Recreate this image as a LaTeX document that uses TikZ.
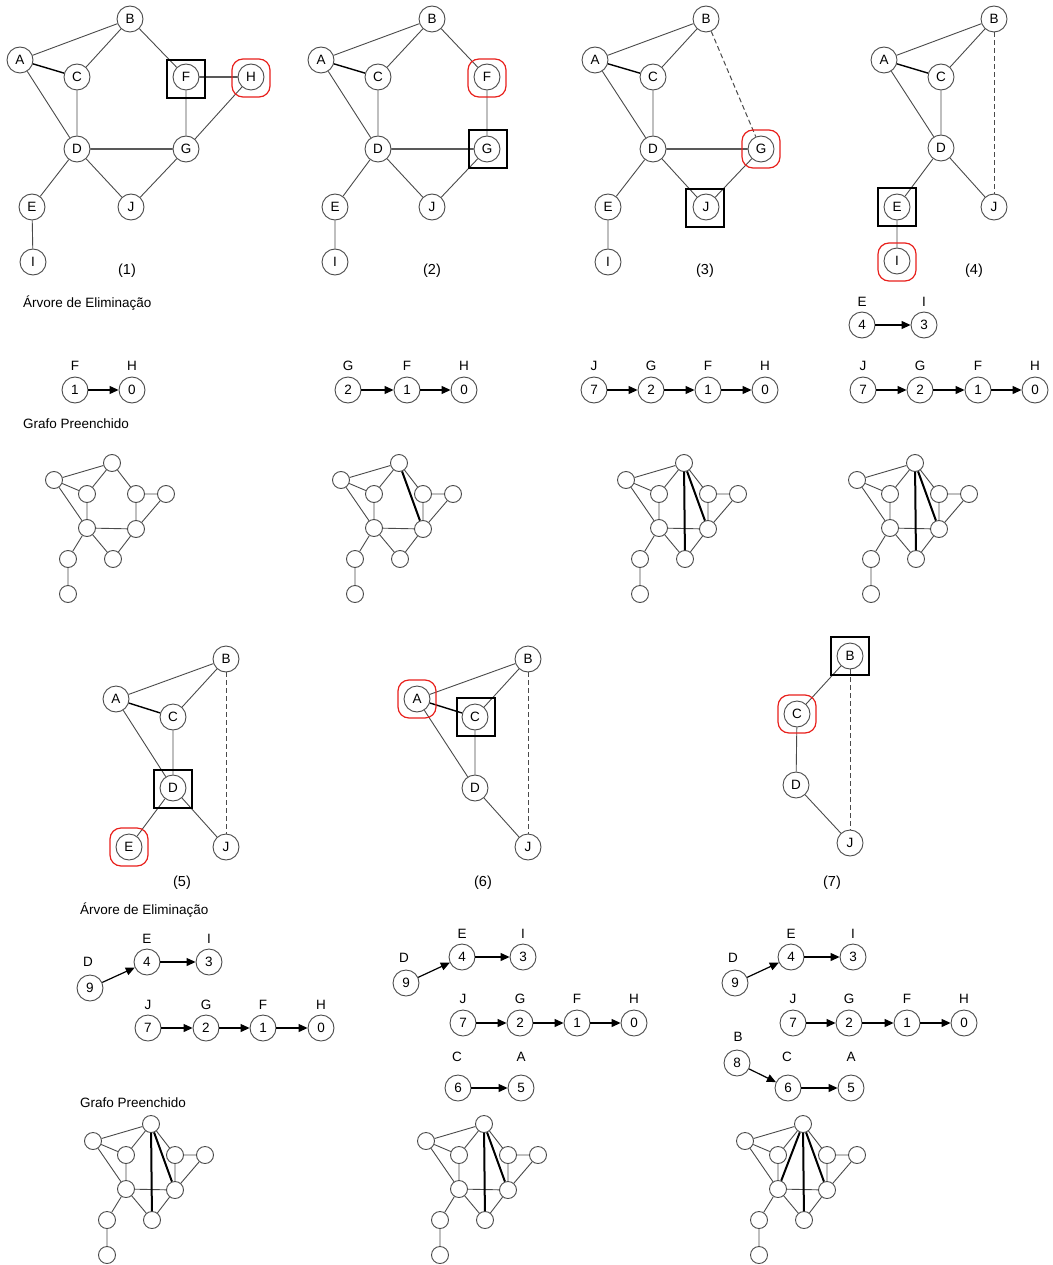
\documentclass[tikz,border=0pt]{standalone}
\usepackage{fontspec}
\setmainfont{Liberation Sans}
\usetikzlibrary{arrows.meta}
\definecolor{edgegray}{HTML}{4A4A4A}
\definecolor{elimred}{HTML}{E8201C}
\newcommand\fgraph[3]{%
\begin{scope}[shift={(#2,#3)}]
\node[sv] (#1B) at (0,0) {};
\node[sv] (#1A) at (-58,17) {};
\node[sv] (#1C) at (-25,31) {};
\node[sv] (#1F) at (24,31) {};
\node[sv] (#1H) at (54,31) {};
\node[sv] (#1D) at (-25,65) {};
\node[sv] (#1G) at (24,66) {};
\node[sv] (#1E) at (-44,96) {};
\node[sv] (#1J) at (1,96) {};
\node[sv] (#1I) at (-44,131) {};
\draw[ed] (#1A)--(#1B) (#1A)--(#1C) (#1B)--(#1C) (#1B)--(#1F) (#1A)--(#1D) (#1C)--(#1D) (#1F)--(#1H) (#1F)--(#1G) (#1H)--(#1G) (#1D)--(#1G) (#1D)--(#1E) (#1D)--(#1J) (#1G)--(#1J) (#1E)--(#1I);
\end{scope}}
\begin{document}
\begin{tikzpicture}[x=1pt,y=-1pt,
 vtx/.style={circle,draw=edgegray,line width=0.9pt,fill=white,minimum size=26pt,inner sep=0pt,font=\fontsize{13.5}{15}\selectfont},
 sv/.style={circle,draw=edgegray,line width=0.9pt,fill=white,minimum size=17pt,inner sep=0pt},
 ed/.style={draw=edgegray,line width=0.9pt},
 hv/.style={draw=black,line width=1.4pt},
 dsh/.style={draw=edgegray,line width=1pt,dash pattern=on 5pt off 3pt},
 fe/.style={draw=black,line width=2pt},
 selbox/.style={draw=black,line width=1.5pt,minimum size=38pt,inner sep=0pt},
 elim/.style={draw=elimred,line width=1.2pt,rounded corners=11pt,minimum size=38pt,inner sep=0pt},
 lbl/.style={font=\fontsize{13.5}{15}\selectfont,inner sep=0pt},
 num/.style={font=\fontsize{14.5}{16}\selectfont,inner sep=0pt},
 ttl/.style={font=\fontsize{13.5}{16}\selectfont,anchor=west,inner sep=0pt},
 arr/.style={draw=black,line width=1.2pt,-{Triangle[length=9pt,width=8pt]}},
]
\useasboundingbox[fill=white] (0,0) rectangle (1052,1265);

% ---------- Panel 1 ----------
\node[vtx] (aA) at (20,60) {A};
\node[vtx] (aB) at (130,19) {B};
\node[vtx] (aC) at (77,77) {C};
\node[vtx] (aF) at (186,77) {F};
\node[vtx] (aH) at (251,77) {H};
\node[vtx] (aD) at (77,149) {D};
\node[vtx] (aG) at (186,149) {G};
\node[vtx] (aE) at (32,207) {E};
\node[vtx] (aJ) at (131,207) {J};
\node[vtx] (aI) at (33,262) {I};
\draw[ed] (aA)--(aB) (aB)--(aC) (aB)--(aF) (aA)--(aD) (aC)--(aD) (aF)--(aG) (aH)--(aG) (aD)--(aE) (aD)--(aJ) (aG)--(aJ) (aE)--(aI);
\draw[hv] (aA)--(aC) (aD)--(aG) (aF)--(aH);
\node[selbox] (aSq) at (186,79) {};
\node[elim] (aRd) at (251,78) {};
\node[num] (aN) at (127,271) {(1)};

% ---------- Panel 2 ----------
\node[vtx] (bA) at (321,60) {A};
\node[vtx] (bB) at (432,19) {B};
\node[vtx] (bC) at (378,77) {C};
\node[vtx] (bF) at (487,77) {F};
\node[vtx] (bD) at (378,149) {D};
\node[vtx] (bG) at (487,149) {G};
\node[vtx] (bE) at (335,207) {E};
\node[vtx] (bJ) at (432,207) {J};
\node[vtx] (bI) at (335,262) {I};
\draw[ed] (bA)--(bB) (bB)--(bC) (bB)--(bF) (bA)--(bD) (bC)--(bD) (bF)--(bG) (bD)--(bE) (bD)--(bJ) (bG)--(bJ) (bE)--(bI);
\draw[hv] (bA)--(bC) (bD)--(bG);
\node[elim] (bRd) at (487,78) {};
\node[selbox] (bSq) at (488,149) {};
\node[num] (bN) at (432,271) {(2)};

% ---------- Panel 3 ----------
\node[vtx] (cA) at (595,60) {A};
\node[vtx] (cB) at (706,19) {B};
\node[vtx] (cC) at (653,77) {C};
\node[vtx] (cD) at (653,149) {D};
\node[vtx] (cG) at (761,149) {G};
\node[vtx] (cE) at (608,207) {E};
\node[vtx] (cJ) at (706,207) {J};
\node[vtx] (cI) at (608,262) {I};
\draw[ed] (cA)--(cB) (cB)--(cC) (cA)--(cD) (cC)--(cD) (cD)--(cE) (cD)--(cJ) (cG)--(cJ) (cE)--(cI);
\draw[hv] (cA)--(cC) (cD)--(cG);
\draw[dsh] (cB)--(cG);
\node[elim] (cRd) at (761,149) {};
\node[selbox] (cSq) at (705,208) {};
\node[num] (cN) at (705,271) {(3)};

% ---------- Panel 4 ----------
\node[vtx] (dA) at (884,60) {A};
\node[vtx] (dB) at (994,19) {B};
\node[vtx] (dC) at (941,77) {C};
\node[vtx] (dD) at (941,148) {D};
\node[vtx] (dE) at (897,207) {E};
\node[vtx] (dJ) at (994,207) {J};
\node[vtx] (dI) at (897,261) {I};
\draw[ed] (dA)--(dB) (dB)--(dC) (dA)--(dD) (dC)--(dD) (dD)--(dE) (dD)--(dJ) (dE)--(dI);
\draw[hv] (dA)--(dC);
\draw[dsh] (dB)--(dJ);
\node[selbox] (dSq) at (897,207) {};
\node[elim] (dRd) at (897,262) {};
\node[num] (dN) at (974,271) {(4)};

% ---------- Titles row 1 ----------
\node[ttl] (t1) at (23,303) {Árvore de Eliminação};
\node[ttl] (t2) at (23,424) {Grafo Preenchido};

% ---------- Trees row 1 ----------
\node[vtx] (ta1) at (75,390) {1};
\node[vtx] (ta0) at (132,390) {0};
\node[lbl] at (75,366) {F};
\node[lbl] at (132,366) {H};
\draw[arr] (ta1)--(ta0);

\node[vtx] (tb2) at (348,390) {2};
\node[vtx] (tb1) at (407,390) {1};
\node[vtx] (tb0) at (464,390) {0};
\node[lbl] at (348,366) {G};
\node[lbl] at (407,366) {F};
\node[lbl] at (464,366) {H};
\draw[arr] (tb2)--(tb1);
\draw[arr] (tb1)--(tb0);

\node[vtx] (tc7) at (594,390) {7};
\node[vtx] (tc2) at (651,390) {2};
\node[vtx] (tc1) at (708,390) {1};
\node[vtx] (tc0) at (765,390) {0};
\node[lbl] at (594,366) {J};
\node[lbl] at (651,366) {G};
\node[lbl] at (708,366) {F};
\node[lbl] at (765,366) {H};
\draw[arr] (tc7)--(tc2);
\draw[arr] (tc2)--(tc1);
\draw[arr] (tc1)--(tc0);

\node[vtx] (td4) at (862,325) {4};
\node[vtx] (td3) at (924,325) {3};
\node[lbl] at (862,302) {E};
\node[lbl] at (924,302) {I};
\draw[arr] (td4)--(td3);
\node[vtx] (td7) at (863,390) {7};
\node[vtx] (td2) at (920,390) {2};
\node[vtx] (td1) at (978,390) {1};
\node[vtx] (td0) at (1035,390) {0};
\node[lbl] at (863,366) {J};
\node[lbl] at (920,366) {G};
\node[lbl] at (978,366) {F};
\node[lbl] at (1035,366) {H};
\draw[arr] (td7)--(td2);
\draw[arr] (td2)--(td1);
\draw[arr] (td1)--(td0);

% ---------- Filled graphs row 1 ----------
\fgraph{fa}{112}{463}
\fgraph{fb}{399}{463}
\draw[fe] (fbB)--(fbG);
\fgraph{fc}{684}{463}
\draw[fe] (fcB)--(fcG) (fcB)--(fcJ);
\fgraph{fd}{915}{463}
\draw[fe] (fdB)--(fdG) (fdB)--(fdJ);

% ---------- Panel 5 ----------
\node[vtx] (eA) at (116,699) {A};
\node[vtx] (eB) at (226,659) {B};
\node[vtx] (eC) at (173,717) {C};
\node[vtx] (eD) at (173,788) {D};
\node[vtx] (eE) at (129,847) {E};
\node[vtx] (eJ) at (226,847) {J};
\draw[ed] (eA)--(eB) (eB)--(eC) (eA)--(eD) (eC)--(eD) (eD)--(eE) (eD)--(eJ);
\draw[hv] (eA)--(eC);
\draw[dsh] (eB)--(eJ);
\node[selbox] (eSq) at (173,789) {};
\node[elim] (eRd) at (129,847) {};
\node[num] (eN) at (182,883) {(5)};

% ---------- Panel 6 ----------
\node[vtx] (gA) at (417,699) {A};
\node[vtx] (gB) at (528,659) {B};
\node[vtx] (gC) at (475,717) {C};
\node[vtx] (gD) at (475,788) {D};
\node[vtx] (gJ) at (528,847) {J};
\draw[ed] (gA)--(gB) (gB)--(gC) (gA)--(gD) (gC)--(gD) (gD)--(gJ);
\draw[hv] (gA)--(gC);
\draw[dsh] (gB)--(gJ);
\node[selbox] (gSq) at (476,717) {};
\node[elim] (gRd) at (417,699) {};
\node[num] (gN) at (483,883) {(6)};

% ---------- Panel 7 ----------
\node[vtx] (hB) at (850,656) {B};
\node[vtx] (hC) at (797,714) {C};
\node[vtx] (hD) at (796,785) {D};
\node[vtx] (hJ) at (850,843) {J};
\draw[ed] (hB)--(hC) (hC)--(hD) (hD)--(hJ);
\draw[dsh] (hB)--(hJ);
\node[selbox] (hSq) at (850,656) {};
\node[elim] (hRd) at (797,714) {};
\node[num] (hN) at (832,883) {(7)};

% ---------- Titles row 2 ----------
\node[ttl] (t3) at (80,910) {Árvore de Eliminação};
\node[ttl] (t4) at (80,1103) {Grafo Preenchido};

% ---------- Trees row 2 ----------
\node[vtx] (te9) at (90,988) {9};
\node[vtx] (te4) at (147,962) {4};
\node[vtx] (te3) at (209,962) {3};
\node[lbl] at (88,962) {D};
\node[lbl] at (147,939) {E};
\node[lbl] at (209,939) {I};
\draw[arr] (te9)--(te4);
\draw[arr] (te4)--(te3);
\node[vtx] (te7) at (148,1028) {7};
\node[vtx] (te2) at (206,1028) {2};
\node[vtx] (te1) at (263,1028) {1};
\node[vtx] (te0) at (321,1028) {0};
\node[lbl] at (148,1005) {J};
\node[lbl] at (206,1005) {G};
\node[lbl] at (263,1005) {F};
\node[lbl] at (321,1005) {H};
\draw[arr] (te7)--(te2);
\draw[arr] (te2)--(te1);
\draw[arr] (te1)--(te0);

\node[vtx] (tg9) at (406,983) {9};
\node[vtx] (tg4) at (462,957) {4};
\node[vtx] (tg3) at (523,957) {3};
\node[lbl] at (404,958) {D};
\node[lbl] at (462,934) {E};
\node[lbl] at (523,934) {I};
\draw[arr] (tg9)--(tg4);
\draw[arr] (tg4)--(tg3);
\node[vtx] (tg7) at (463,1023) {7};
\node[vtx] (tg2) at (520,1023) {2};
\node[vtx] (tg1) at (577,1023) {1};
\node[vtx] (tg0) at (634,1023) {0};
\node[lbl] at (463,999) {J};
\node[lbl] at (520,999) {G};
\node[lbl] at (577,999) {F};
\node[lbl] at (634,999) {H};
\draw[arr] (tg7)--(tg2);
\draw[arr] (tg2)--(tg1);
\draw[arr] (tg1)--(tg0);
\node[vtx] (tg6) at (458,1088) {6};
\node[vtx] (tg5) at (521,1088) {5};
\node[lbl] at (457,1057) {C};
\node[lbl] at (521,1057) {A};
\draw[arr] (tg6)--(tg5);

\node[vtx] (th9) at (735,983) {9};
\node[vtx] (th4) at (791,957) {4};
\node[vtx] (th3) at (853,957) {3};
\node[lbl] at (733,958) {D};
\node[lbl] at (791,934) {E};
\node[lbl] at (853,934) {I};
\draw[arr] (th9)--(th4);
\draw[arr] (th4)--(th3);
\node[vtx] (th7) at (793,1023) {7};
\node[vtx] (th2) at (849,1023) {2};
\node[vtx] (th1) at (907,1023) {1};
\node[vtx] (th0) at (964,1023) {0};
\node[lbl] at (793,999) {J};
\node[lbl] at (849,999) {G};
\node[lbl] at (907,999) {F};
\node[lbl] at (964,999) {H};
\draw[arr] (th7)--(th2);
\draw[arr] (th2)--(th1);
\draw[arr] (th1)--(th0);
\node[vtx] (th8) at (737,1063) {8};
\node[vtx] (th6) at (788,1088) {6};
\node[vtx] (th5) at (851,1088) {5};
\node[lbl] at (738,1037) {B};
\node[lbl] at (787,1057) {C};
\node[lbl] at (851,1057) {A};
\draw[arr] (th8)--(th6);
\draw[arr] (th6)--(th5);

% ---------- Filled graphs row 2 ----------
\fgraph{fe}{151}{1124}
\draw[fe] (feB)--(feG) (feB)--(feJ);
\fgraph{fg}{484}{1124}
\draw[fe] (fgB)--(fgG) (fgB)--(fgJ);
\fgraph{fh}{803}{1124}
\draw[fe] (fhB)--(fhG) (fhB)--(fhJ) (fhB)--(fhD);
\end{tikzpicture}
\end{document}
